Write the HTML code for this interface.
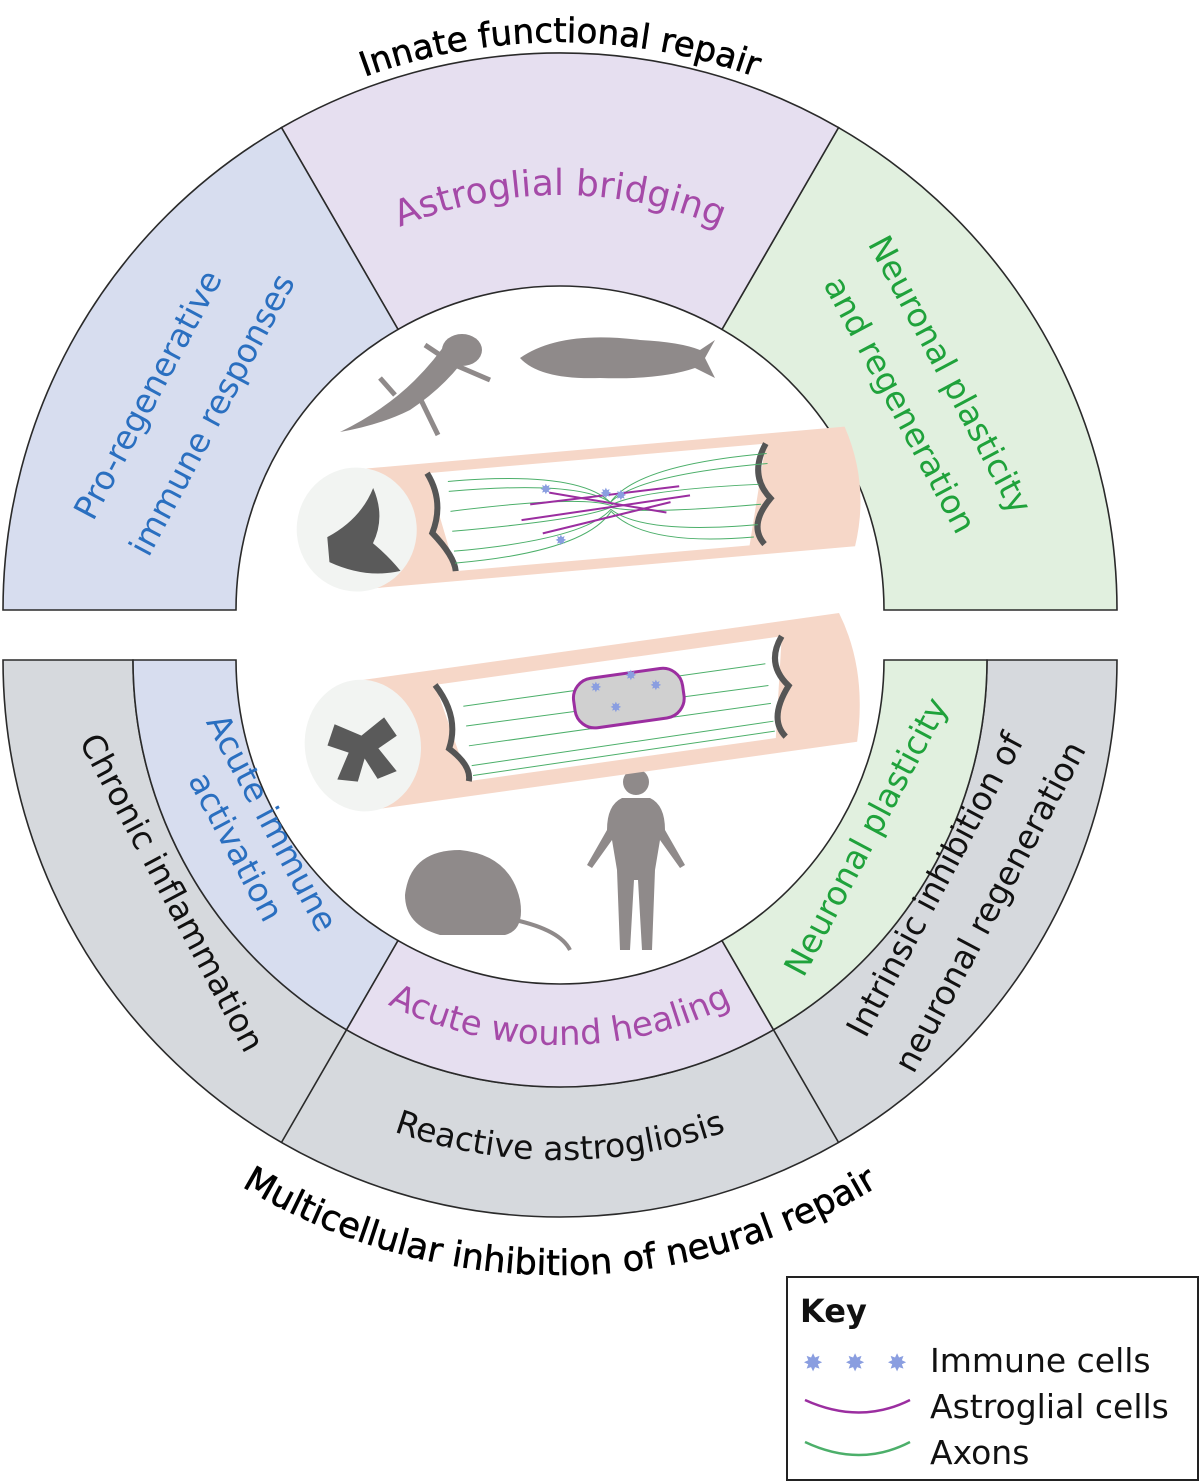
<!DOCTYPE html>
<html><head><meta charset="utf-8"><style>
html,body{margin:0;padding:0;background:#fff}
svg{display:block}
text{font-family:"DejaVu Sans","Liberation Sans",sans-serif}
</style></head><body>
<svg width="1200" height="1483" viewBox="0 0 1200 1483" xmlns="http://www.w3.org/2000/svg">
<defs>
<path id="tTop" d="M-8,610 A568,568 0 0 1 1128,610"/>
<path id="tAB" d="M145,610 A415,415 0 0 1 975,610"/>
<path id="tAW" d="M175,660 A385,385 0 0 0 945,660"/>
<path id="tRA" d="M60,660 A500,500 0 0 0 1060,660"/>
<path id="tMI" d="M-55,660 A615,615 0 0 0 1175,660"/>
</defs>
<g stroke="#2a2a2a" stroke-width="1.6">
<path d="M884,610 L1117,610 A557,557 0 0 0 838.5,127.6 L722,329.4 A324,324 0 0 1 884,610Z" fill="#e1f0df"/>
<path d="M722,329.4 L838.5,127.6 A557,557 0 0 0 281.5,127.6 L398,329.4 A324,324 0 0 1 722,329.4Z" fill="#e6dff0"/>
<path d="M398,329.4 L281.5,127.6 A557,557 0 0 0 3,610 L236,610 A324,324 0 0 1 398,329.4Z" fill="#d7ddef"/>
<path d="M3,660 L133,660 A427,427 0 0 0 987,660 L1117,660 A557,557 0 0 1 3,660Z" fill="#d6d9dd"/>
<line x1="346.5" y1="1029.8" x2="281.5" y2="1142.4"/>
<line x1="773.5" y1="1029.8" x2="838.5" y2="1142.4"/>
<path d="M236,660 L133,660 A427,427 0 0 0 346.5,1029.8 L398,940.6 A324,324 0 0 1 236,660Z" fill="#d7ddef"/>
<path d="M398,940.6 L346.5,1029.8 A427,427 0 0 0 773.5,1029.8 L722,940.6 A324,324 0 0 1 398,940.6Z" fill="#e6dff0"/>
<path d="M722,940.6 L773.5,1029.8 A427,427 0 0 0 987,660 L884,660 A324,324 0 0 1 722,940.6Z" fill="#e1f0df"/>
</g>
<text font-size="34" fill="#000" stroke="#000" stroke-width="0.6"><textPath href="#tTop" startOffset="50%" text-anchor="middle">Innate functional repair</textPath></text>
<text font-size="36" fill="#a54aa8"><textPath href="#tAB" startOffset="50%" text-anchor="middle">Astroglial bridging</textPath></text>
<text font-size="34" fill="#a54aa8"><textPath href="#tAW" startOffset="50%" text-anchor="middle">Acute wound healing</textPath></text>
<text font-size="33" fill="#111"><textPath href="#tRA" startOffset="50%" text-anchor="middle">Reactive astrogliosis</textPath></text>
<text font-size="35" fill="#000" stroke="#000" stroke-width="0.6"><textPath href="#tMI" startOffset="50%" text-anchor="middle">Multicellular inhibition of neural repair</textPath></text>
<g font-size="33" text-anchor="middle">
<text transform="translate(158,400) rotate(-62)" fill="#2a6fc0">Pro-regenerative</text>
<text transform="translate(222,420) rotate(-62)" fill="#2a6fc0">immune responses</text>
<text transform="translate(940,380) rotate(62)" fill="#1fa23b">Neuronal plasticity</text>
<text transform="translate(890,410) rotate(62)" fill="#1fa23b">and regeneration</text>
<text transform="translate(162,898) rotate(62)" fill="#111">Chronic inflammation</text>
<text transform="translate(262,828) rotate(62)" fill="#2a6fc0">Acute immune</text>
<text transform="translate(226,852) rotate(62)" fill="#2a6fc0">activation</text>
<text transform="translate(876,842) rotate(-62)" fill="#1fa23b">Neuronal plasticity</text>
<text transform="translate(945,890) rotate(-62)" fill="#111">Intrinsic inhibition of</text>
<text transform="translate(1000,912) rotate(-62)" fill="#111">neuronal regeneration</text>
</g>
<g fill="#8f8a8a">
<path d="M340,432 Q380,425 410,410 Q440,390 460,365 Q475,350 470,340 Q460,330 448,340 Q435,360 415,380 Q385,410 340,432Z"/>
<ellipse cx="462" cy="350" rx="20" ry="16"/>
<path d="M395,395 L380,378 M420,398 L438,435 M455,365 L490,380 M440,355 L425,345" stroke="#8f8a8a" stroke-width="5"/>
<path d="M520,358 Q560,330 640,340 Q680,342 700,350 L715,340 L705,358 L715,378 L695,368 Q660,380 600,378 Q540,380 520,358Z"/>
<path d="M405,895 Q410,850 460,850 Q510,855 520,900 Q525,930 505,935 L440,935 Q405,925 405,895Z"/>
<path d="M515,920 Q560,930 570,950" stroke="#8f8a8a" stroke-width="4" fill="none"/>
<circle cx="636" cy="782" r="13"/>
<path d="M622,798 L650,798 Q665,805 665,830 L685,865 L680,868 L660,840 L655,870 L652,950 L642,950 L638,880 L634,880 L630,950 L620,950 L617,870 L612,840 L592,868 L587,865 L607,830 Q607,805 622,798Z"/>
</g>
<g transform="rotate(-5 580 500)">
<path d="M360,450 L850,450 Q870,510 850,570 L360,570Z" fill="#f6d7c8"/>
<path d="M430,460 L770,460 L745,560 L450,560Z" fill="#fff"/>
<path d="M430,460 Q445,490 430,520 Q450,545 450,560" stroke="#555" stroke-width="6" fill="none"/>
<path d="M770,460 Q750,490 770,515 Q745,540 760,560" stroke="#555" stroke-width="6" fill="none"/>
<g stroke="#4caf6a" stroke-width="1" fill="none">
<path d="M450,470 Q580,470 610,505 Q640,470 770,470"/>
<path d="M450,480 Q580,480 610,505 Q640,480 770,480"/>
<path d="M450,500 Q580,495 610,508 Q640,495 760,500"/>
<path d="M450,520 Q580,520 610,510 Q640,520 760,520"/>
<path d="M450,540 Q580,540 610,512 Q640,540 755,540"/>
<path d="M450,552 Q580,552 610,514 Q640,552 750,552"/>
</g>
<g stroke="#9b2ea0" stroke-width="2" fill="none">
<path d="M530,500 L680,495"/><path d="M520,515 L690,505"/><path d="M540,530 L670,510"/><path d="M550,490 L665,520"/>
</g>
<ellipse cx="355" cy="510" rx="60" ry="62" fill="#f2f4f2"/>
<path d="M325,515 Q360,500 375,470 Q385,500 370,525 Q385,540 395,555 Q360,560 325,540Z" fill="#5a5a5a"/>
</g>
<g transform="rotate(-8 580 710)">
<path d="M360,650 L850,650 Q870,710 850,780 L360,780Z" fill="#f6d7c8"/>
<path d="M440,665 L790,665 L770,765 L460,765Z" fill="#fff"/>
<path d="M440,665 Q460,700 445,730 Q465,750 460,765" stroke="#555" stroke-width="6" fill="none"/>
<path d="M790,665 Q770,690 790,715 Q765,745 780,765" stroke="#555" stroke-width="6" fill="none"/>
<g stroke="#4caf6a" stroke-width="1" fill="none">
<path d="M465,690 L770,690"/><path d="M465,710 L770,712"/><path d="M465,730 L770,730"/><path d="M465,750 L770,748"/><path d="M465,760 L770,758"/>
</g>
<rect x="575" y="680" width="110" height="50" rx="20" fill="#d0d0d0" stroke="#9b2ea0" stroke-width="3"/>
<ellipse cx="360" cy="715" rx="58" ry="66" fill="#f2f4f2"/>
<path d="M335,690 L360,705 L385,690 L395,710 L375,720 L390,745 L370,750 L360,728 L350,750 L330,745 L345,720 L325,710Z" fill="#5a5a5a"/>
</g>
<g fill="#8a9ee0" font-size="14">
<text x="600" y="498">✸</text><text x="540" y="494">✸</text><text x="555" y="545">✸</text><text x="615" y="500">✸</text>
<text x="590" y="692">✸</text><text x="625" y="680">✸</text><text x="650" y="690">✸</text><text x="610" y="712">✸</text>
</g>
<rect x="787" y="1277" width="411" height="203" fill="#fff" stroke="#222" stroke-width="2"/>
<text x="800" y="1322" font-size="32" font-weight="bold" fill="#111">Key</text>
<g fill="#8a9ee0" font-size="24"><text x="803" y="1371">✸</text><text x="845" y="1371">✸</text><text x="887" y="1371">✸</text></g>
<path d="M805,1400 Q860,1425 910,1400" stroke="#9b2ea0" stroke-width="2.5" fill="none"/>
<path d="M805,1442 Q860,1468 910,1442" stroke="#4caf6a" stroke-width="2.5" fill="none"/>
<g font-size="33" fill="#111">
<text x="930" y="1372">Immune cells</text>
<text x="930" y="1418">Astroglial cells</text>
<text x="930" y="1464">Axons</text>
</g>
</svg>
</body></html>
